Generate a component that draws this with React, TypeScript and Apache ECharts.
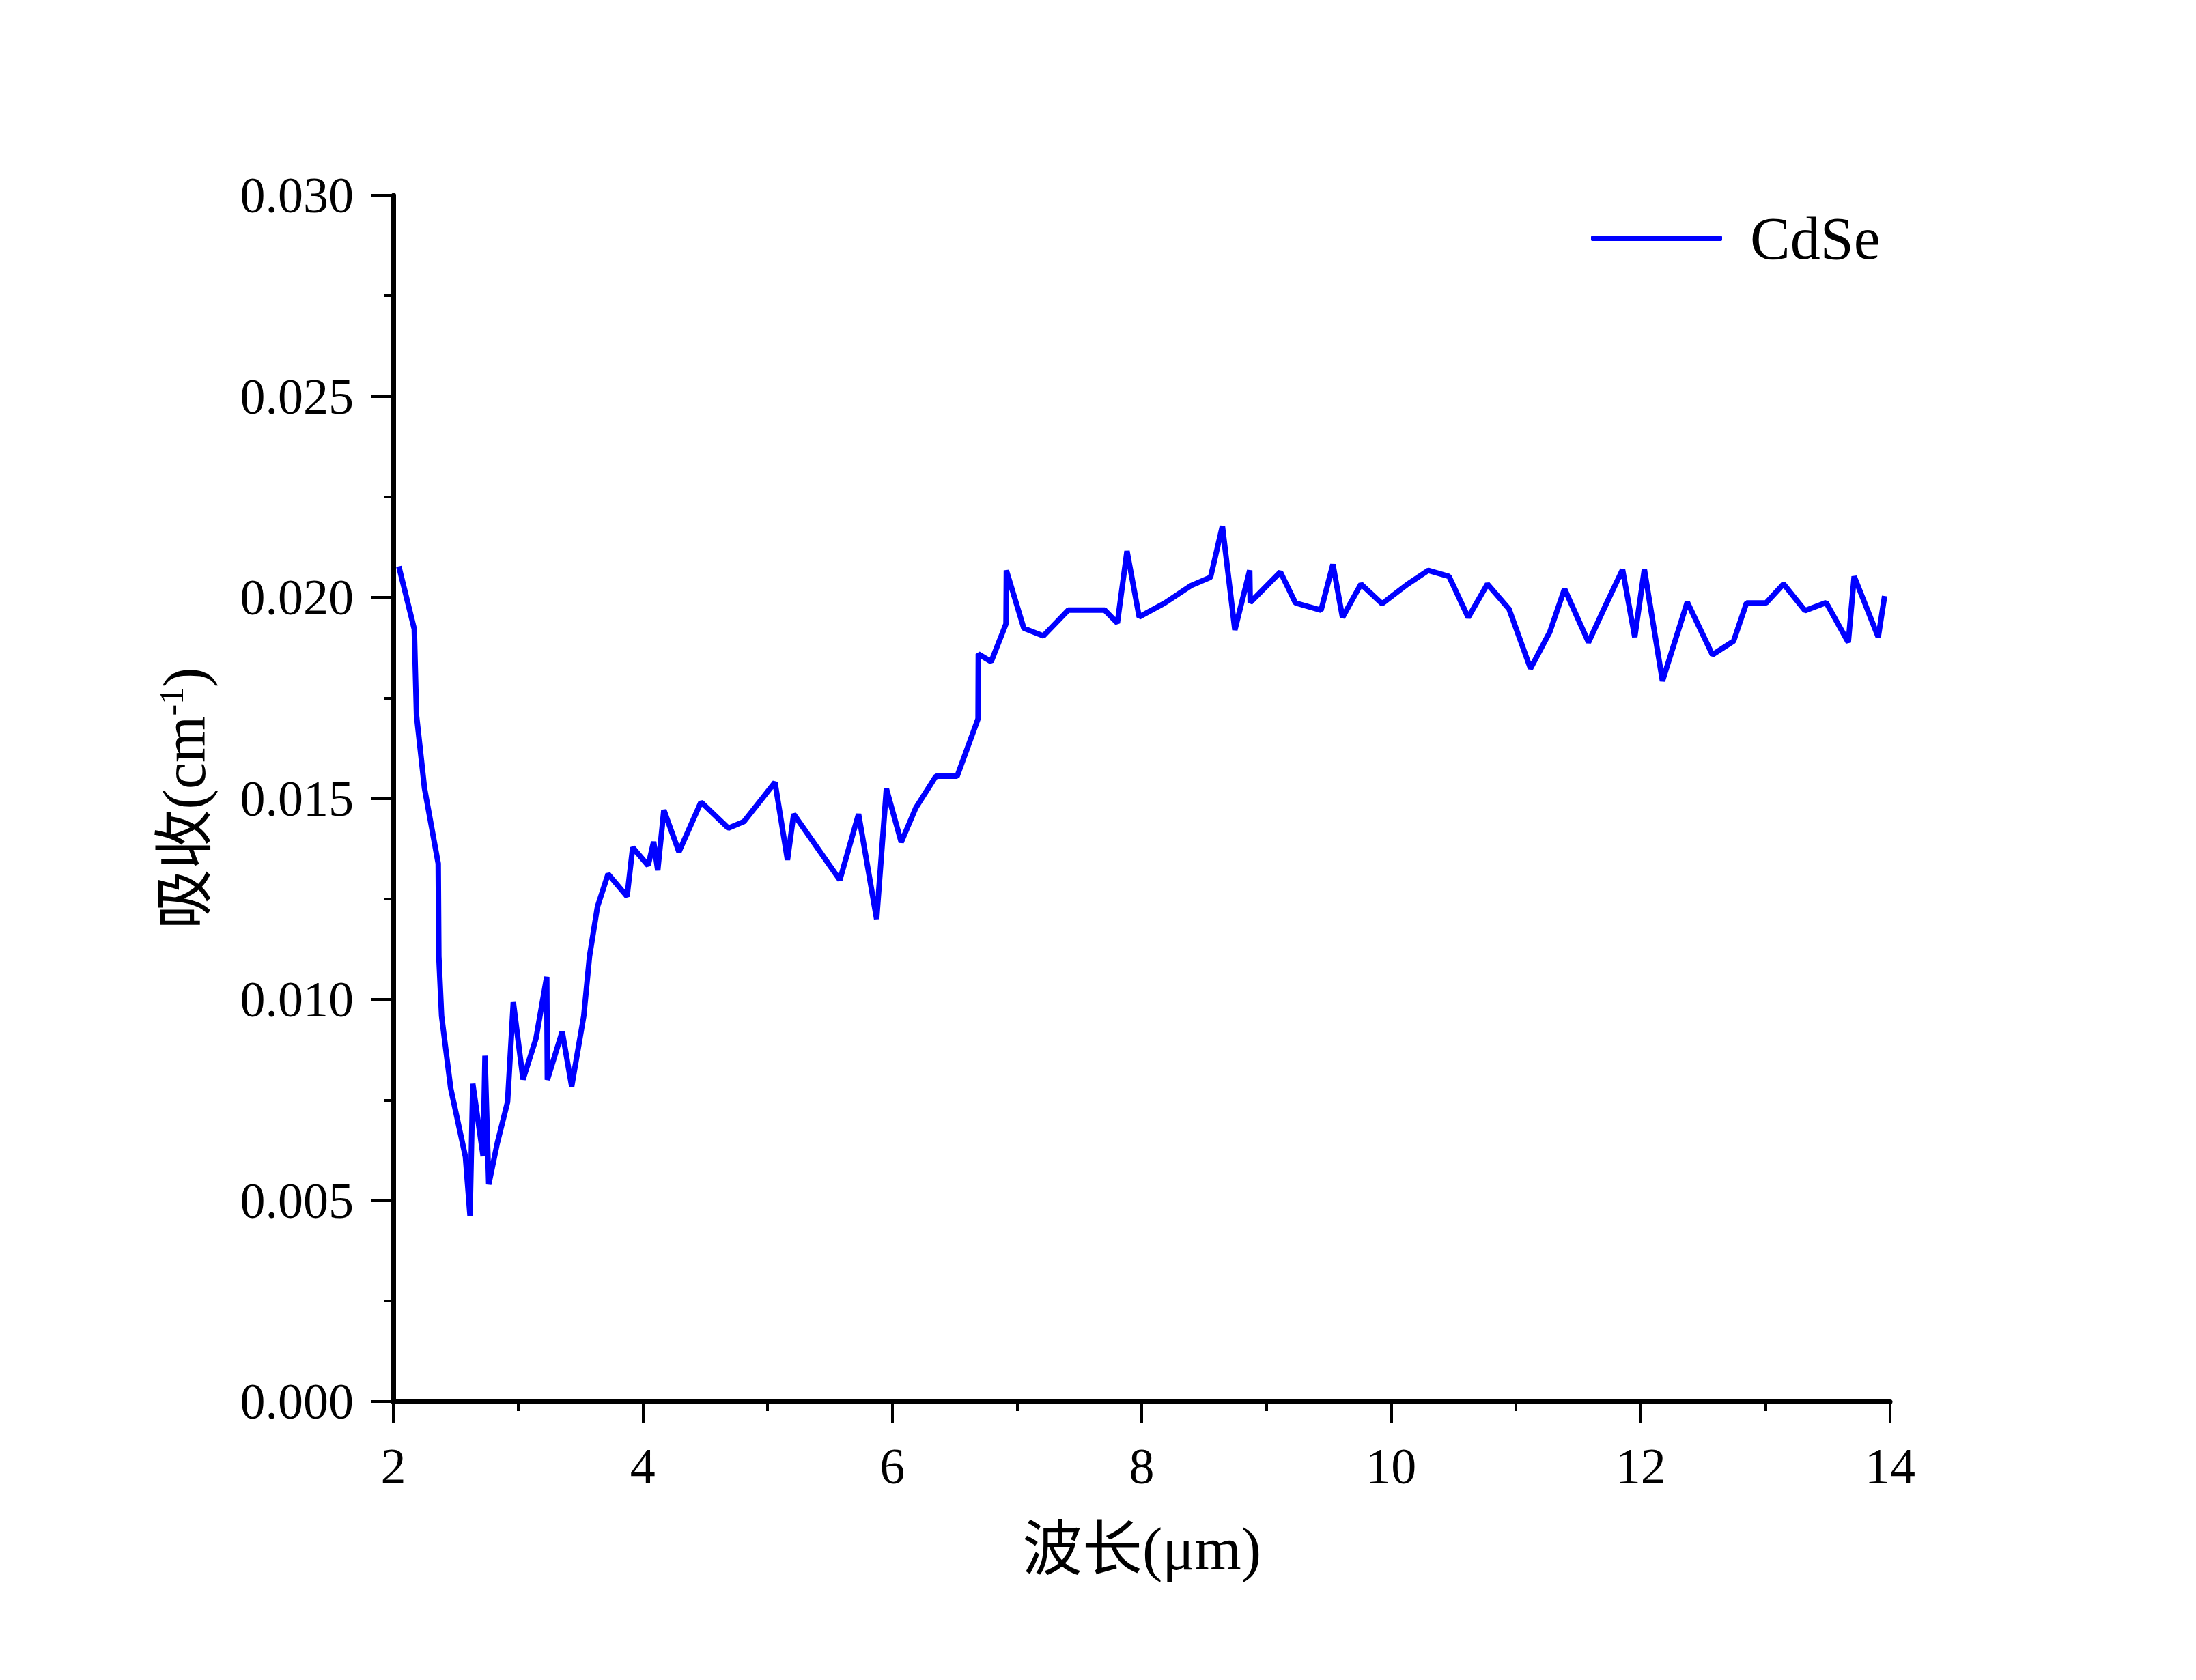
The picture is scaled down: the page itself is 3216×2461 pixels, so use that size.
import React, { useEffect, useRef } from "react";
import * as echarts from "echarts";

const wavelength = [
  2.044, 2.168, 2.186, 2.25, 2.36, 2.365, 2.387, 2.46, 2.578, 2.615,
  2.637, 2.72, 2.735, 2.765, 2.834, 2.916, 2.962, 3.04, 3.144, 3.23,
  3.235, 3.354, 3.43, 3.527, 3.573, 3.637, 3.722, 3.874, 3.919, 4.043,
  4.087, 4.12, 4.169, 4.29, 4.467, 4.686, 4.81, 5.06, 5.16, 5.21,
  5.58, 5.73, 5.875, 5.953, 6.072, 6.19, 6.35, 6.52, 6.688, 6.69,
  6.793, 6.912, 6.915, 7.055, 7.212, 7.411, 7.704, 7.805, 7.882, 7.98,
  8.186, 8.395, 8.552, 8.647, 8.747, 8.866, 8.87, 9.112, 9.233, 9.438,
  9.533, 9.61, 9.758, 9.927, 10.129, 10.298, 10.464, 10.618, 10.772, 10.945,
  11.117, 11.271, 11.39, 11.582, 11.716, 11.855, 11.953, 12.03, 12.175, 12.374,
  12.576, 12.745, 12.849, 13.006, 13.146, 13.318, 13.487, 13.665, 13.712, 13.905,
  13.956,
];

const absorption = [
  0.02077, 0.01921, 0.01706, 0.01525, 0.01338, 0.01107, 0.00959, 0.00779, 0.00609, 0.00462,
  0.0079, 0.0061, 0.0086, 0.0054, 0.00643, 0.00745, 0.00993, 0.00801, 0.00903, 0.01056,
  0.008, 0.0092, 0.00784, 0.00959, 0.01107, 0.01231, 0.01312, 0.01256, 0.01378, 0.01333,
  0.01392, 0.01321, 0.01471, 0.01367, 0.01491, 0.01426, 0.01442, 0.0154, 0.01347, 0.01461,
  0.01297, 0.01461, 0.012, 0.01524, 0.01391, 0.01477, 0.01555, 0.01555, 0.01698, 0.01859,
  0.0184, 0.01934, 0.02067, 0.01923, 0.01904, 0.01968, 0.01968, 0.01936, 0.02115, 0.01951,
  0.01986, 0.02029, 0.0205, 0.02177, 0.01919, 0.02067, 0.01987, 0.02063, 0.01986, 0.01968,
  0.02082, 0.0195, 0.02033, 0.01984, 0.02032, 0.02067, 0.02052, 0.0195, 0.02033, 0.01971,
  0.01823, 0.01913, 0.02021, 0.01888, 0.01978, 0.02069, 0.01901, 0.02069, 0.01792, 0.01988,
  0.01857, 0.01891, 0.01986, 0.01986, 0.02033, 0.01967, 0.01987, 0.01888, 0.02052, 0.01901,
  0.02003,
];

const seriesName = "CdSe";
const xAxisTitle = "波长(μm)";
const yAxisTitle = "{t|吸收(cm}{s|-1}{t|)}";

const FONT = "'Liberation Serif', 'Noto Sans CJK SC', serif";

export default function App() {
  const ref = useRef<HTMLDivElement>(null);

  useEffect(() => {
    if (!ref.current) return;
    const chart = echarts.init(ref.current, undefined, { renderer: "svg" });
    const data = wavelength.map((x, i) => [x, absorption[i]]);
    chart.setOption({
      animation: false,
      backgroundColor: "#ffffff",
      grid: { left: 576, right: 448, top: 286, bottom: 408, containLabel: false },
      legend: {
        show: true,
        left: 2325,
        top: 300,
        orient: "horizontal",
        itemWidth: 192,
        itemHeight: 8,
        icon: "roundRect",
        itemStyle: { color: "#0000ff", borderWidth: 0 },
        data: [{ name: seriesName, icon: "roundRect" }],
        textStyle: {
          fontFamily: FONT,
          fontSize: 88,
          color: "#000",
          padding: [0, 0, 0, 36],
        },
      },
      xAxis: {
        type: "value",
        min: 2,
        max: 14,
        interval: 2,
        name: xAxisTitle,
        nameLocation: "middle",
        nameGap: 172,
        nameTextStyle: { fontFamily: FONT, fontSize: 88, color: "#000" },
        axisLine: { show: true, onZero: false, lineStyle: { color: "#000", width: 7 } },
        axisTick: { show: true, length: 32, lineStyle: { color: "#000", width: 4 } },
        minorTick: { show: true, splitNumber: 2, length: 14, lineStyle: { color: "#000", width: 4 } },
        splitLine: { show: false },
        axisLabel: { fontFamily: FONT, fontSize: 74, color: "#000", margin: 58 },
      },
      yAxis: {
        type: "value",
        min: 0,
        max: 0.03,
        interval: 0.005,
        name: yAxisTitle,
        nameLocation: "middle",
        nameRotate: 90,
        nameGap: 262,
        nameTextStyle: {
          fontFamily: FONT,
          color: "#000",
          rich: {
            t: { fontFamily: FONT, fontSize: 88, color: "#000" },
            s: { fontFamily: FONT, fontSize: 50, color: "#000", verticalAlign: "top", padding: [0, 0, 38, 0] },
          },
        },
        axisLine: { show: true, onZero: false, lineStyle: { color: "#000", width: 7 } },
        axisTick: { show: true, length: 32, lineStyle: { color: "#000", width: 4 } },
        minorTick: { show: true, splitNumber: 2, length: 14, lineStyle: { color: "#000", width: 4 } },
        splitLine: { show: false },
        axisLabel: {
          fontFamily: FONT,
          fontSize: 74,
          color: "#000",
          margin: 58,
          formatter: (v: number) => v.toFixed(3),
        },
      },
      series: [
        {
          name: seriesName,
          type: "line",
          data,
          symbol: "none",
          showSymbol: false,
          lineStyle: { color: "#0000ff", width: 8 },
          itemStyle: { color: "#0000ff" },
        },
      ],
    });
    return () => chart.dispose();
  }, []);

  return (
    <div
      ref={ref}
      style={{ position: "absolute", left: 0, top: 0, width: 3216, height: 2461, background: "#fff" }}
    />
  );
}
